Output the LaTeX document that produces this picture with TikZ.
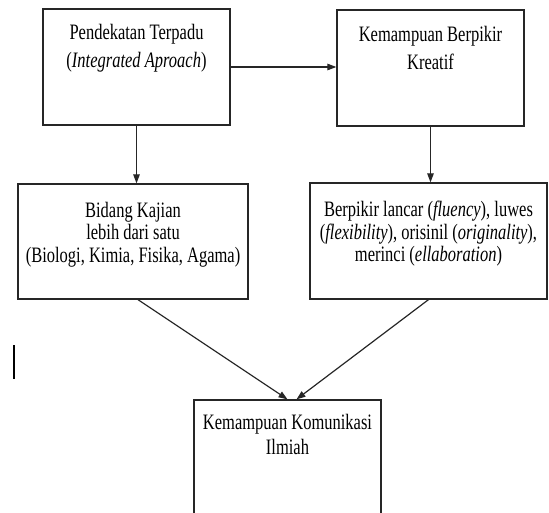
\documentclass[tikz,border=0pt]{standalone}
\usepackage{fontspec}
\setmainfont{Liberation Serif}[FakeStretch=0.75]
\usepackage{tikz}
\usetikzlibrary{arrows.meta, positioning, calc}

\tikzset{
  kotak/.style={draw=black!85, line width=1.3pt, inner sep=0pt},
  isi/.style={inner sep=0pt, align=center, font=\fontsize{22}{28}\selectfont},
  isirapat/.style={inner sep=0pt, align=center, font=\fontsize{22}{22.5}\selectfont},
  panah/.style={draw=black!85, line width=1.2pt, -{Triangle[length=9pt,width=6.5pt]}}
}

\begin{document}
\begin{tikzpicture}[x=1pt, y=-1pt]
  \useasboundingbox (0,0) rectangle (549,513);

  % Boxes
  \node[kotak, minimum width=187pt, minimum height=116pt] (terpadu) at (136.5,67) {};
  \node[kotak, minimum width=187pt, minimum height=116pt] (kreatif) at (430.5,68) {};
  \node[kotak, minimum width=230pt, minimum height=115pt] (kajian) at (133,241.5) {};
  \node[kotak, minimum width=237pt, minimum height=116pt] (indikator) at (428.5,241) {};
  \node[kotak, minimum width=187pt, minimum height=116pt] (komunikasi) at (287.5,458) {};

  % Texts in the boxes
  \node[isi, below=15.5pt of terpadu.north] (terpadu-teks)
    {Pendekatan Terpadu\\(\textit{Integrated Aproach})};
  \node[isi, below=17pt of kreatif.north] (kreatif-teks)
    {Kemampuan Berpikir\\Kreatif};
  \node[isirapat, below=18.5pt of kajian.north] (kajian-teks)
    {Bidang Kajian\\lebih dari satu\\(Biologi, Kimia, Fisika, Agama)};
  \node[isirapat, below=18.5pt of indikator.north] (indikator-teks)
    {Berpikir lancar (\textit{fluency}), luwes\\(\textit{flexibility}), orisinil (\textit{originality}),\\merinci (\textit{ellaboration})};
  \node[isi, below=15pt of komunikasi.north, font=\fontsize{22}{25}\selectfont] (komunikasi-teks)
    {Kemampuan Komunikasi\\Ilmiah};

  % Arrows
  \draw[panah] (terpadu.east) -- (terpadu.east -| kreatif.west);
  \draw[panah] (terpadu.south) -- (terpadu.south |- kajian.north);
  \draw[panah] (kreatif.south) -- (kreatif.south |- indikator.north);
  \draw[panah] ([xshift=5pt]kajian.south) -- (komunikasi.north);
  \draw[panah] (indikator.south) -- ([xshift=9pt]komunikasi.north);

  % Stray bar at the left
  \draw[line width=1.6pt] (14,345) -- (14,379);
\end{tikzpicture}
\end{document}
